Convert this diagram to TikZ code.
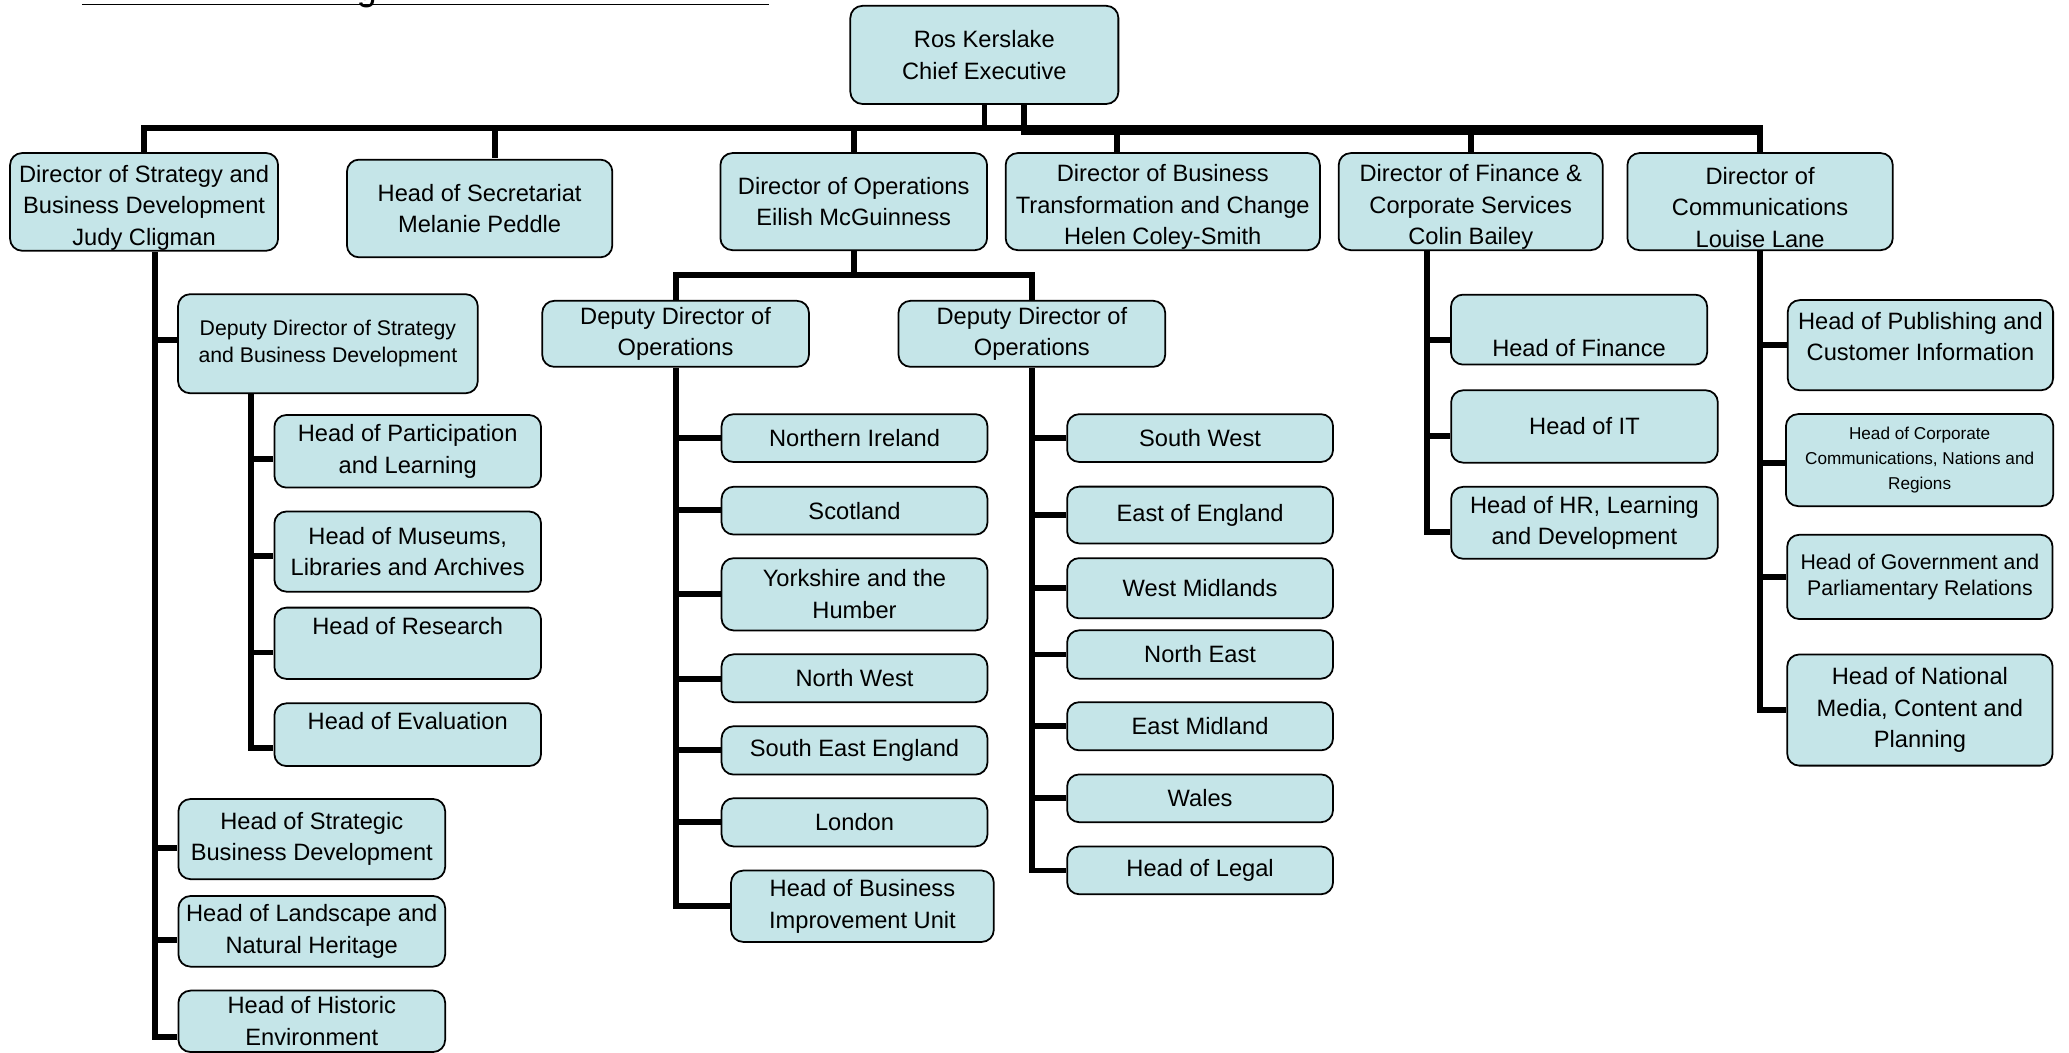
\documentclass[tikz,border=0pt]{standalone}
\usepackage{fontspec}
\setmainfont{Liberation Sans}
\usepackage{xcolor}
\usepackage{tikz}
\definecolor{boxfill}{RGB}{197,229,232}
\newcommand{\orgfont}{\fontsize{5.1}{6.8}\selectfont}
\newcommand{\orgsmall}{\fontsize{4.58}{5.75}\selectfont}
\newcommand{\orgtiny}{\fontsize{3.7}{5.4}\selectfont}
\newcommand{\dirtop}{\rule{0pt}{6.1pt}}

\begin{document}
\begin{tikzpicture}[x=0.01cm, y=-0.01cm, scale=1.32, every node/.style={scale=1.32},
    orgbox/.style={draw, line width=0.5pt, fill=boxfill, rounded corners=1.2mm, align=center, inner sep=0pt, font=\orgfont},
    dirbox/.style={orgbox, minimum width=2.02cm, minimum height=0.735cm},
    region/.style={orgbox, minimum width=2.014cm, minimum height=0.362cm},
    link/.style={line width=1.7pt}]
    \useasboundingbox (0,0) rectangle (1568,798);
    \clip (0,0) rectangle (1568,798);

    % title rule (cut off at the top)
    \draw[line width=0.4pt] (62,3.3) -- (583,3.3);
    \node[anchor=base, font=\fontsize{7.7}{9}\selectfont] (title) at (278,0) {g};

    % Chief Executive and directors
    \node[dirbox, minimum width=2.03cm, minimum height=0.743cm] (ceo) at (746,41.6) {Ros Kerslake\\Chief Executive};
    \node[dirbox, minimum width=2.03cm, minimum height=0.74cm] (strat) at (109.2,153) {\dirtop Director of Strategy and\\Business Development\\Judy Cligman};
    \node[dirbox, minimum width=2.01cm, minimum height=0.74cm] (sec) at (363.5,158) {Head of Secretariat\\Melanie Peddle};
    \node[dirbox] (ops) at (647,152.8) {Director of Operations\\Eilish McGuinness};
    \node[dirbox, minimum width=2.38cm] (biz) at (881.2,152.8) {\dirtop Director of Business\\Transformation and Change\\Helen Coley-Smith};
    \node[dirbox, minimum width=2.0cm] (fin) at (1114.6,152.8) {\dirtop Director of Finance \&\\Corporate Services\\Colin Bailey};
    \node[dirbox, minimum width=2.01cm] (comms) at (1333.9,152.8) {\dirtop Director of\\Communications\\Louise Lane};

    % Strategy and Business Development
    \node[orgbox, font=\orgsmall, minimum width=2.27cm, minimum height=0.75cm] (dds) at (248.5,260.5) {Deputy Director of Strategy\\and Business Development};
    \node[orgbox, minimum width=2.02cm, minimum height=0.55cm] (hpl) at (309,342) {Head of Participation\\and Learning};
    \node[orgbox, minimum width=2.02cm, minimum height=0.607cm] (hmla) at (309,418) {Head of Museums,\\Libraries and Archives};
    \node[orgbox, minimum width=2.02cm, minimum height=0.54cm] (hres) at (309,487.5) {Head of Research\rule[-7.5pt]{0pt}{0pt}};
    \node[orgbox, minimum width=2.02cm, minimum height=0.475cm] (heval) at (309,556.8) {Head of Evaluation\rule[-5.75pt]{0pt}{0pt}};
    \node[orgbox, minimum width=2.02cm, minimum height=0.607cm] (hsbd) at (236.3,635.9) {Head of Strategic\\Business Development};
    \node[orgbox, minimum width=2.02cm, minimum height=0.535cm] (hlnh) at (236.3,705.8) {Head of Landscape and\\Natural Heritage};
    \node[orgbox, minimum width=2.02cm, minimum height=0.465cm] (hhe) at (236.3,774) {Head of Historic\\Environment};

    % Operations
    \node[orgbox, minimum width=2.02cm, minimum height=0.5cm] (ddoA) at (512,253) {Deputy Director of\\Operations};
    \node[orgbox, minimum width=2.02cm, minimum height=0.5cm] (ddoB) at (782,253) {Deputy Director of\\Operations};
    \node[region] (ni) at (647.6,332) {Northern Ireland};
    \node[region] (scot) at (647.6,387) {Scotland};
    \node[region, minimum height=0.547cm] (york) at (647.6,450.4) {Yorkshire and the\\Humber};
    \node[region] (nw) at (647.6,514) {North West};
    \node[region, minimum height=0.366cm] (see) at (647.6,568.7) {South East England};
    \node[region, minimum height=0.365cm] (lon) at (647.6,623.2) {London};
    \node[region, minimum width=1.99cm, minimum height=0.54cm] (hbiu) at (653.6,686.8) {Head of Business\\Improvement Unit};
    \node[region] (sw) at (909.5,332) {South West};
    \node[region, minimum height=0.43cm] (eoe) at (909.5,390.3) {East of England};
    \node[region, minimum height=0.456cm] (wm) at (909.5,445.8) {West Midlands};
    \node[region, minimum height=0.366cm] (ne) at (909.5,496) {North East};
    \node[region, minimum height=0.365cm] (em) at (909.5,550.4) {East Midland};
    \node[region] (wal) at (909.5,605) {Wales};
    \node[region] (hleg) at (909.5,659.6) {Head of Legal};

    % Finance and Corporate Services
    \node[orgbox, minimum width=1.94cm, minimum height=0.53cm] (hfin) at (1196.7,249.8) {\strut\\Head of Finance};
    \node[orgbox, minimum width=2.02cm, minimum height=0.548cm] (hit) at (1200.8,323.2) {Head of IT};
    \node[orgbox, minimum width=2.02cm, minimum height=0.545cm] (hhr) at (1200.8,396.2) {Head of HR, Learning\\and Development};

    % Communications
    \node[orgbox, minimum width=2.01cm, minimum height=0.683cm] (hpub) at (1455.4,261.6) {Head of Publishing and\\Customer Information\rule[-3.8pt]{0pt}{0pt}};
    \node[orgbox, font=\orgtiny, minimum width=2.025cm, minimum height=0.697cm] (hcorp) at (1454.8,348.7) {Head of Corporate\\Communications, Nations and\\Regions};
    \node[orgbox, font=\orgsmall, minimum width=2.01cm, minimum height=0.638cm] (hgov) at (1455,437.2) {Head of Government and\\Parliamentary Relations};
    \node[orgbox, minimum width=2.01cm, minimum height=0.842cm] (hnat) at (1455,538.1) {Head of National\\Media, Content and\\Planning};

    % top level lines
    \coordinate (bus) at (0,97.3);
    \coordinate (bus2) at (0,99.8);
    \coordinate (ceoB) at (776,78.8);
    \coordinate (secx) at (374.8,0);
    \coordinate (bizx) at (846.7,0);
    \draw[link] (strat.north) |- (comms.north |- bus) -- (comms.north);
    \draw[link] (ceo.south) -- (ceo.south |- bus);
    \draw[link] (ceoB) |- (comms.north |- bus2);
    \draw[link] (secx |- bus) -- (secx |- sec.north);
    \draw[link] (ops.north |- bus) -- (ops.north);
    \draw[link] (bizx |- bus) -- (bizx |- biz.north);
    \draw[link] (fin.north |- bus) -- (fin.north);

    % strategy branch
    \coordinate (trS) at (117.5,0);
    \draw[link] (trS |- strat.south) |- (hhe.west |- 0,785.7);
    \foreach \n/\y in {dds/258, hsbd/642.3, hlnh/712.4}
        \draw[link] (trS |- 0,\y) -- (\n.west |- 0,\y);
    \coordinate (trD) at (190,0);
    \draw[link] (trD |- dds.south) |- (heval.west |- 0,567.2);
    \foreach \n/\y in {hpl/347.9, hmla/421.7, hres/494.5}
        \draw[link] (trD |- 0,\y) -- (\n.west |- 0,\y);

    % operations branch
    \coordinate (opsbus) at (0,208.4);
    \draw[link] (ops.south) -- (ops.south |- opsbus);
    \draw[link] (ddoA.north) |- (ddoB.north |- opsbus) -- (ddoB.north);
    \draw[link] (ddoA.south) |- (hbiu.west |- 0,686.8);
    \foreach \n/\y in {ni/332.2, scot/386.4, york/450.3, nw/514.3, see/568.4, lon/623.2}
        \draw[link] (ddoA.south |- 0,\y) -- (\n.west |- 0,\y);
    \draw[link] (ddoB.south) |- (hleg.west |- 0,659.7);
    \foreach \n/\y in {sw/332.2, eoe/390.1, wm/445.6, ne/496, em/550.4, wal/605}
        \draw[link] (ddoB.south |- 0,\y) -- (\n.west |- 0,\y);

    % finance branch
    \coordinate (trF) at (1081,0);
    \draw[link] (trF |- fin.south) |- (hhr.west |- 0,403.5);
    \foreach \n/\y in {hfin/258, hit/330.4}
        \draw[link] (trF |- 0,\y) -- (\n.west |- 0,\y);

    % communications branch
    \draw[link] (comms.south) |- (hnat.west |- 0,538.2);
    \foreach \n/\y in {hpub/261.2, hcorp/350.6, hgov/437.2}
        \draw[link] (comms.south |- 0,\y) -- (\n.west |- 0,\y);
\end{tikzpicture}
\end{document}
